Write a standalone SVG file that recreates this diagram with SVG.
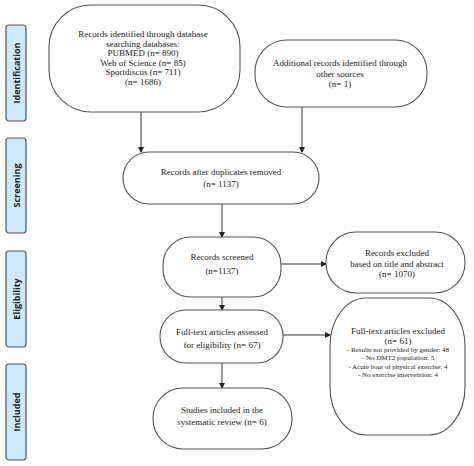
<svg xmlns="http://www.w3.org/2000/svg" width="474" height="466" viewBox="0 0 474 466">
<defs>
<marker id="ah" markerWidth="6" markerHeight="6" refX="5" refY="3" orient="auto" markerUnits="userSpaceOnUse">
<path d="M0,0 L6,3 L0,6 Z" fill="#222"/>
</marker>
<style>
.box{fill:#fff;stroke:#555;stroke-width:1.1}
.side{fill:#cce8fb;stroke:#555;stroke-width:1.2}
.sl{font-family:"Open Sans","DejaVu Sans",sans-serif;font-weight:bold;font-size:9px;fill:#222;text-anchor:middle}
.t{font-family:"Liberation Serif","Times New Roman",serif;font-size:9px;fill:#222;text-anchor:middle}
.s{font-family:"Liberation Serif","Times New Roman",serif;font-size:7px;fill:#222;text-anchor:middle}
.c{stroke:#333;stroke-width:1;fill:none;marker-end:url(#ah)}
</style>
</defs>
<rect width="474" height="466" fill="#fff"/>
<g id="phase-identification"><rect class="side" x="6" y="25" width="20" height="96" rx="3"/><text class="sl" transform="translate(19.5,73) rotate(-90)">Identification</text></g>
<g id="phase-screening"><rect class="side" x="6" y="138" width="20" height="95" rx="3"/><text class="sl" transform="translate(19.5,185.5) rotate(-90)">Screening</text></g>
<g id="phase-eligibility"><rect class="side" x="6" y="251" width="20" height="96" rx="3"/><text class="sl" transform="translate(19.5,299) rotate(-90)">Eligibility</text></g>
<g id="phase-included"><rect class="side" x="6" y="364" width="20" height="96" rx="3"/><text class="sl" transform="translate(19.5,412) rotate(-90)">Included</text></g>

<g id="connectors">
<line class="c" x1="141" y1="112" x2="141" y2="152"/>
<line class="c" x1="302" y1="107" x2="302" y2="152"/>
<line class="c" x1="222" y1="204" x2="222" y2="237"/>
<line class="c" x1="281" y1="264" x2="326" y2="264"/>
<line class="c" x1="222" y1="297" x2="222" y2="310"/>
<line class="c" x1="283" y1="335" x2="330" y2="335"/>
<line class="c" x1="222" y1="363" x2="222" y2="388"/>
</g>

<g id="n1"><rect class="box" x="49" y="5" width="191" height="107" rx="42" ry="42"/>
<text class="t" x="143" y="37">Records identified through database</text>
<text class="t" x="143" y="46.5">searching databases:</text>
<text class="t" x="143" y="56">PUBMED (n= 890)</text>
<text class="t" x="143" y="65.5">Web of Science (n= 85)</text>
<text class="t" x="143" y="75">Sportdiscus (n= 711)</text>
<text class="t" x="143" y="84.5">(n= 1686)</text></g>

<g id="n2"><rect class="box" x="255" y="40" width="172" height="67" rx="32" ry="32"/>
<text class="t" x="340" y="66">Additional records identified through</text>
<text class="t" x="340" y="76.5">other sources</text>
<text class="t" x="340" y="87">(n= 1)</text></g>

<g id="n3"><rect class="box" x="123" y="152" width="196" height="52" rx="26" ry="26"/>
<text class="t" x="221" y="175">Records after duplicates removed</text>
<text class="t" x="221" y="187">(n= 1137)</text></g>

<g id="n4"><rect class="box" x="163" y="237" width="118" height="60" rx="28" ry="28"/>
<text class="t" x="222" y="260">Records screened</text>
<text class="t" x="222" y="274">(n=1137)</text></g>

<g id="n5"><rect class="box" x="326" y="232" width="139" height="61" rx="30" ry="30"/>
<text class="t" x="397" y="256">Records excluded</text>
<text class="t" x="397" y="267">based on title and abstract</text>
<text class="t" x="397" y="277">(n= 1070)</text></g>

<g id="n6"><rect class="box" x="160" y="310" width="123" height="53" rx="26" ry="26"/>
<text class="t" x="222" y="335">Full-text articles assessed</text>
<text class="t" x="222" y="348">for eligibility (n= 67)</text></g>

<g id="n7"><rect class="box" x="330" y="298" width="135" height="137" rx="36" ry="48"/>
<text class="t" x="398" y="334">Full-text articles excluded</text>
<text class="t" x="398" y="344">(n= 61)</text>
<text class="s" x="398" y="352">- Results not provided by gender: 48</text>
<text class="s" x="398" y="360">- No DMT2 population: 5</text>
<text class="s" x="398" y="368.5">- Acute bout of physical exercise: 4</text>
<text class="s" x="398" y="376.5">- No exercise intervention: 4</text></g>

<g id="n8"><rect class="box" x="153" y="388" width="139" height="61" rx="30" ry="30"/>
<text class="t" x="222" y="413">Studies included in the</text>
<text class="t" x="222" y="425">systematic review (n= 6)</text></g>
</svg>
